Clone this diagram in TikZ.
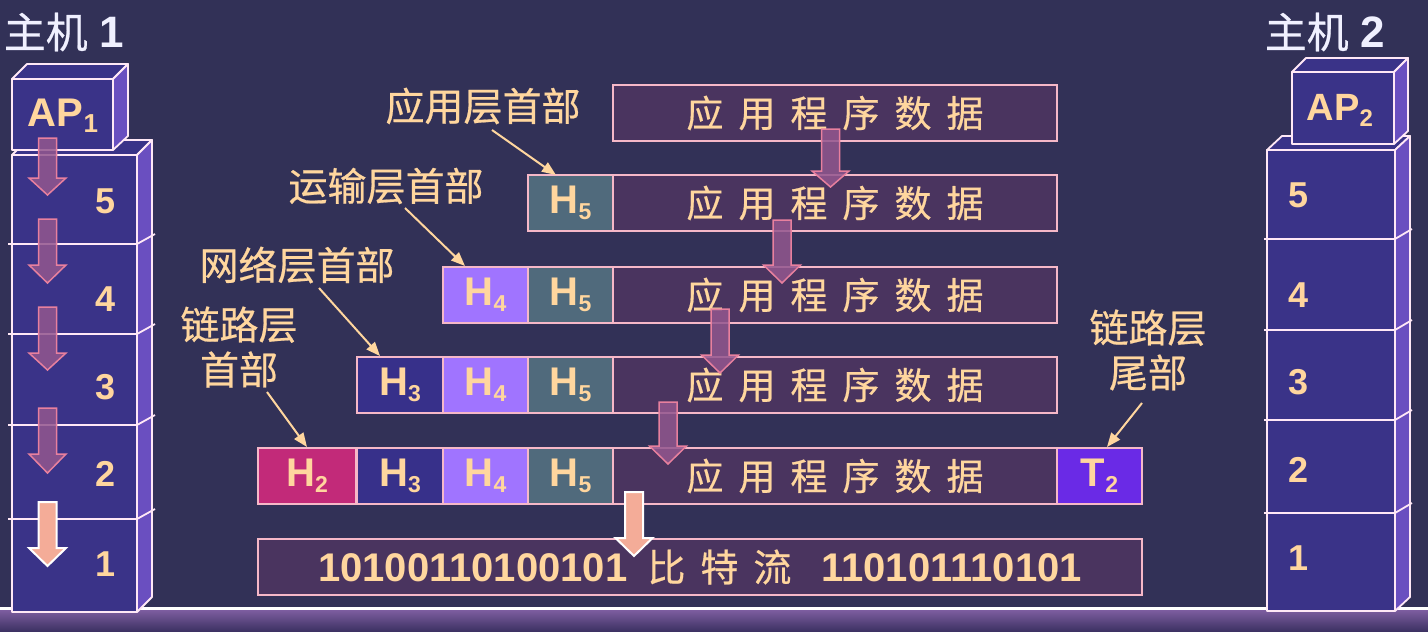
\documentclass[tikz,border=0pt]{standalone}
\usepackage{fontspec}
\setmainfont{Liberation Sans}
\newfontfamily\cjk[FakeBold=0.5]{Noto Sans CJK SC}
\usetikzlibrary{arrows.meta}
\definecolor{bg}{HTML}{323157}
\definecolor{peach}{HTML}{FFD69E}
\definecolor{stackfront}{HTML}{3A3388}
\definecolor{stackside}{HTML}{6A4FC0}
\definecolor{stackline}{HTML}{FFE8F6}
\definecolor{databg}{HTML}{4A345F}
\definecolor{hfive}{HTML}{506A7C}
\definecolor{hfour}{HTML}{A074FF}
\definecolor{hthree}{HTML}{37308A}
\definecolor{htwo}{HTML}{C22A79}
\definecolor{ttwo}{HTML}{6A2AE6}
\definecolor{boxline}{HTML}{F6B8C8}
\definecolor{arrfill}{HTML}{93578F}
\definecolor{arrline}{HTML}{E8809E}
\definecolor{bigarr}{HTML}{F4AC98}
\definecolor{titlecol}{HTML}{F0F0FF}
\definecolor{bandtop}{HTML}{7D5DA0}
\definecolor{bandbot}{HTML}{3A3060}
\newcommand\Hsub[4]{{\fontsize{#1}{#1}\selectfont\bfseries #3}\raisebox{-6pt}{\fontsize{#2}{#2}\selectfont\bfseries #4}}
\newcommand\blockdown[5]{\draw[#1] ({#2-9},#3) -- ({#2+9},#3) -- ({#2+9},#4) -- ({#2+18.5},#4) -- (#2,#5) -- ({#2-18.5},#4) -- ({#2-9},#4) -- cycle;}
\newcommand\datatext{{\cjk\fontsize{37}{37}\selectfont 应\hspace{15pt}用\hspace{15pt}程\hspace{15pt}序\hspace{15pt}数\hspace{15pt}据}}
\begin{document}
\begin{tikzpicture}[x=1pt,y=-1pt,
  stackedge/.style={draw=stackline, line width=1.8pt, line join=round},
  cell/.style={draw=boxline, line width=1.5pt, minimum height=56pt, inner sep=0pt, text=peach, anchor=center},
  datacell/.style={cell, fill=databg, minimum width=444pt},
  hcell/.style={cell, minimum width=85pt},
  lbl/.style={text=peach, font=\cjk\fontsize{39}{45}\selectfont, inner sep=0pt, align=center},
  lblarrow/.style={draw=peach, line width=2pt, -{Triangle[length=14pt,width=11pt]}},
  blockarr/.style={fill=arrfill, fill opacity=0.85, draw=arrline, line width=1.5pt},
  bigblock/.style={fill=bigarr, draw=white, line width=2pt},
  num/.style={text=peach, font=\fontsize{36}{36}\selectfont\bfseries, inner sep=0pt},
  titletext/.style={text=titlecol, inner sep=0pt}
]
\fill[bg] (0,0) rectangle (1428,632);
\useasboundingbox (0,0) rectangle (1428,632);
% ground band
\shade[top color=bandtop, bottom color=bandbot] (0,610) rectangle (1428,632);
\draw[white, line width=2.5pt] (0,608.5) -- (1428,608.5);

% ---------- host 1 stack ----------
\filldraw[fill=stackfront, stackedge] (12,155) rectangle (137,612);
\filldraw[fill=stackfront, stackedge] (12,155) -- (27,140) -- (152,140) -- (137,155) -- cycle;
\filldraw[fill=stackside, stackedge] (137,155) -- (152,140) -- (152,597) -- (137,612) -- cycle;
\foreach \yy in {244,334,425,519} \draw[stackedge] (8,\yy) -- (137,\yy) -- (155,\yy-10);
\filldraw[fill=stackfront, stackedge] (12,79) rectangle (113,150);
\filldraw[fill=stackfront, stackedge] (12,79) -- (27,64) -- (128,64) -- (113,79) -- cycle;
\filldraw[fill=stackside, stackedge] (113,79) -- (128,64) -- (128,136) -- (113,150) -- cycle;
\node[text=peach, inner sep=0pt] (ap1) at (63,116) {\Hsub{40}{26}{AP}{1}};
\node[num] (l5) at (106,201) {5};
\node[num] (l4) at (106,299) {4};
\node[num] (l3) at (106,387) {3};
\node[num] (l2) at (106,474) {2};
\node[num] (l1) at (106,564) {1};
\blockdown{blockarr}{47.5}{138}{178}{195}
\blockdown{blockarr}{47.5}{219}{265}{283}
\blockdown{blockarr}{47.5}{307}{353}{370}
\blockdown{blockarr}{47.5}{408}{454}{473}
\blockdown{bigblock}{47.5}{502}{548}{566}
\node[titletext] (host1) at (64,32) {{\cjk\fontsize{42}{42}\selectfont 主机}\hspace{12pt}{\fontsize{44}{44}\selectfont\bfseries 1}};

% ---------- host 2 stack ----------
\filldraw[fill=stackfront, stackedge] (1267,150) rectangle (1395,611);
\filldraw[fill=stackfront, stackedge] (1267,150) -- (1282,136) -- (1410,136) -- (1395,150) -- cycle;
\filldraw[fill=stackside, stackedge] (1395,150) -- (1410,136) -- (1410,597) -- (1395,611) -- cycle;
\foreach \yy in {239,330,420,513} \draw[stackedge] (1264,\yy) -- (1395,\yy) -- (1412,\yy-10);
\filldraw[fill=stackfront, stackedge] (1292,72) rectangle (1394,144);
\filldraw[fill=stackfront, stackedge] (1292,72) -- (1306,58) -- (1408,58) -- (1394,72) -- cycle;
\filldraw[fill=stackside, stackedge] (1394,72) -- (1408,58) -- (1408,131) -- (1394,144) -- cycle;
\node[text=peach, inner sep=0pt] (ap2) at (1340,110) {\Hsub{38}{24}{AP}{2}};
\node[num] (r5) at (1298,195) {5};
\node[num] (r4) at (1298,295) {4};
\node[num] (r3) at (1298,382) {3};
\node[num] (r2) at (1298,470) {2};
\node[num] (r1) at (1298,558) {1};
\node[titletext] (host2) at (1325,32) {{\cjk\fontsize{42}{42}\selectfont 主机}\hspace{12pt}{\fontsize{44}{44}\selectfont\bfseries 2}};

% ---------- encapsulation rows ----------
\node[datacell] (d1) at (835,113) {\datatext};

\node[hcell, fill=hfive] (h5b) at (570.5,203) {\Hsub{40}{23}{H}{5}};
\node[datacell] (d2) at (835,203) {\datatext};

\node[hcell, fill=hfour] (h4c) at (485.5,295) {\Hsub{40}{23}{H}{4}};
\node[hcell, fill=hfive] (h5c) at (570.5,295) {\Hsub{40}{23}{H}{5}};
\node[datacell] (d3) at (835,295) {\datatext};

\node[hcell, fill=hthree, minimum width=86pt] (h3d) at (400,385) {\Hsub{40}{23}{H}{3}};
\node[hcell, fill=hfour] (h4d) at (485.5,385) {\Hsub{40}{23}{H}{4}};
\node[hcell, fill=hfive] (h5d) at (570.5,385) {\Hsub{40}{23}{H}{5}};
\node[datacell] (d4) at (835,385) {\datatext};

\node[hcell, fill=htwo, minimum width=98pt] (h2e) at (307,476) {\Hsub{40}{23}{H}{2}};
\node[hcell, fill=hthree, minimum width=86pt] (h3e) at (400,476) {\Hsub{40}{23}{H}{3}};
\node[hcell, fill=hfour] (h4e) at (485.5,476) {\Hsub{40}{23}{H}{4}};
\node[hcell, fill=hfive] (h5e) at (570.5,476) {\Hsub{40}{23}{H}{5}};
\node[datacell] (d5) at (835,476) {\datatext};
\node[hcell, fill=ttwo] (t2e) at (1099.5,476) {\Hsub{40}{23}{T}{2}};

\node[cell, fill=databg, minimum width=884pt] (bits) at (700,567)
  {\fontsize{40}{40}\selectfont\bfseries 10100110100101\hspace{20pt}{\mdseries\cjk\fontsize{38}{38}\selectfont 比\hspace{15pt}特\hspace{15pt}流}\hspace{30pt}110101110101};

% ---------- labels ----------
\node[lbl] (lab5) at (483,106) {应用层首部};
\node[lbl] (lab4) at (386,186) {运输层首部};
\node[lbl] (lab3) at (297,265) {网络层首部};
\node[lbl] (lab2) at (239,347) {链路层\\首部};
\node[lbl] (labt) at (1148,350) {链路层\\尾部};

\coordinate (s5) at (492,130); \coordinate (e5) at (556,175);
\coordinate (s4) at (405,208); \coordinate (e4) at (465,266);
\coordinate (s3) at (319,288); \coordinate (e3) at (380,356);
\coordinate (s2) at (267,392); \coordinate (e2) at (307,447);
\coordinate (st) at (1142,403); \coordinate (et) at (1107,447);
\draw[lblarrow] (s5) -- (e5);
\draw[lblarrow] (s4) -- (e4);
\draw[lblarrow] (s3) -- (e3);
\draw[lblarrow] (s2) -- (e2);
\draw[lblarrow] (st) -- (et);

% ---------- block arrows ----------
\blockdown{blockarr}{830.5}{129}{171}{187}
\blockdown{blockarr}{782}{220}{265}{283}
\blockdown{blockarr}{720}{309}{355}{373}
\blockdown{blockarr}{668}{402}{446}{464}
\blockdown{bigblock}{634}{492}{538}{556}
\end{tikzpicture}
\end{document}
